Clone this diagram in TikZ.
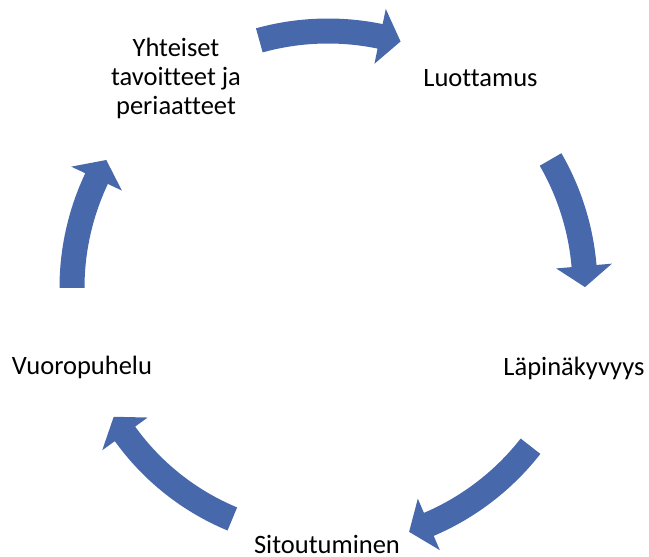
\documentclass[tikz,border=0pt]{standalone}
\usepackage{fontspec}
\setmainfont{Carlito}[Ligatures=NoCommon]
\definecolor{arrowblue}{HTML}{4868AC}
\newcommand\cyarrow[3]{%
  \fill[arrowblue, shift={(328,269)}]
    ({#1}:{#3pt+12.5pt}) arc[start angle={#1}, end angle={#2+4.7}, radius={#3pt+12.5pt}]
    -- ({#2+4.7}:{#3pt+28pt}) -- ({#2}:{#3pt}) -- ({#2+4.7}:{#3pt-28pt})
    -- ({#2+4.7}:{#3pt-12.5pt}) arc[start angle={#2+4.7}, end angle={#1}, radius={#3pt-12.5pt}]
    -- cycle;}
\begin{document}
\begin{tikzpicture}[x=1pt,y=1pt,
  lbl/.style={inner sep=0pt, anchor=base, font=\fontsize{26.5}{29}\selectfont}]
\useasboundingbox (0,0) rectangle (649,557);
\cyarrow{105.5}{73.6}{257}
\cyarrow{30}{0.2}{257}
\cyarrow{-38}{-71.6}{257}
\cyarrow{-112.5}{-149}{250}
\cyarrow{180}{150}{256}
\node[lbl, align=center] (yht) at (176,442) {Yhteiset\\tavoitteet ja\\periaatteet};
\node[lbl] (luo) at (480.5,470) {Luottamus};
\node[lbl] (lap) at (574,181) {Läpinäkyvyys};
\node[lbl] (sit) at (327,3) {Sitoutuminen};
\node[lbl] (vuo) at (82,182) {Vuoropuhelu};
\end{tikzpicture}
\end{document}
